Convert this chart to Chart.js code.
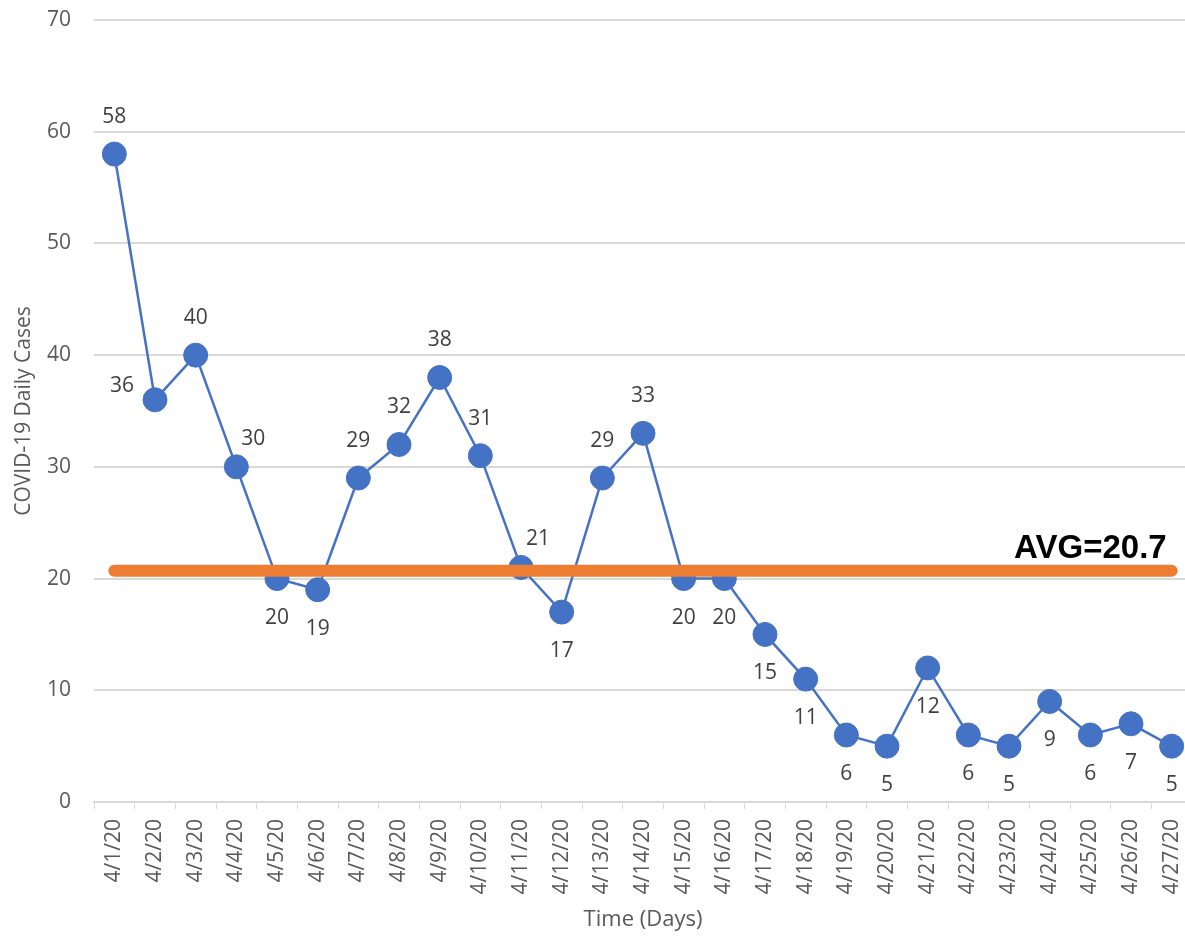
<!DOCTYPE html>
<html>
<head>
<meta charset="utf-8">
<script src="https://cdn.jsdelivr.net/npm/chart.js@4"></script>
<style>
    html, body { margin: 0; padding: 0; background: #fff; overflow: hidden; }
    #wrap { width: 1206px; height: 936px; }
</style>
</head>
<body>
<div id="wrap"><canvas id="casesChart"></canvas></div>
<script>
const days = ['4/1/20', '4/2/20', '4/3/20', '4/4/20', '4/5/20', '4/6/20', '4/7/20', '4/8/20', '4/9/20',
    '4/10/20', '4/11/20', '4/12/20', '4/13/20', '4/14/20', '4/15/20', '4/16/20', '4/17/20', '4/18/20',
    '4/19/20', '4/20/20', '4/21/20', '4/22/20', '4/23/20', '4/24/20', '4/25/20', '4/26/20', '4/27/20'];
const dailyCases = [58, 36, 40, 30, 20, 19, 29, 32, 38, 31, 21, 17, 29, 33, 20, 20, 15, 11, 6, 5, 12, 6, 5, 9, 6, 7, 5];
const avgCases = 20.7;
const yTicks = [0, 10, 20, 30, 40, 50, 60, 70];

// where each value label sits relative to its point
const labelSpots = ['above', 'left', 'above', 'aboveRight', 'below', 'below', 'above', 'above', 'above',
    'above', 'aboveRight', 'below', 'above', 'above', 'below', 'below', 'below', 'below',
    'below', 'below', 'below', 'below', 'below', 'below', 'below', 'below', 'below'];
const spotOffsets = {
    above: [0, -37],
    below: [0, 39],
    left: [-33, -14],
    aboveRight: [17, -28]
};

const gridGrey = '#d9d9d9';
const textGrey = '#595959';

const pointLabels = {
    id: 'pointLabels',
    afterDatasetsDraw(chart) {
        const ctx = chart.ctx;
        const meta = chart.getDatasetMeta(1);
        ctx.save();
        ctx.font = '21px "Open Sans"';
        ctx.fillStyle = '#404040';
        ctx.textAlign = 'center';
        ctx.textBaseline = 'middle';
        meta.data.forEach((pt, i) => {
            const off = spotOffsets[labelSpots[i]];
            ctx.fillText(String(dailyCases[i]), pt.x + off[0], pt.y + off[1]);
        });

        // label for the average line
        const yAvg = chart.scales.y.getPixelForValue(avgCases);
        const xEnd = chart.scales.x.getPixelForValue(days.length - 1);
        ctx.font = 'bold 33px "Liberation Sans"';
        ctx.fillStyle = '#000';
        ctx.textAlign = 'right';
        ctx.textBaseline = 'alphabetic';
        ctx.fillText('AVG=' + avgCases, xEnd - 5, yAvg - 13);
        ctx.restore();
    }
};

new Chart(document.getElementById('casesChart'), {
    type: 'line',
    data: {
        labels: days,
        datasets: [{
            label: 'Average',
            data: [{ x: days[0], y: avgCases }, { x: days[days.length - 1], y: avgCases }],
            borderColor: '#ed7d31',
            borderWidth: 12,
            borderCapStyle: 'round',
            pointRadius: 0,
            fill: false
        }, {
            label: 'Daily Cases',
            data: dailyCases,
            borderColor: '#4472c4',
            borderWidth: 2.5,
            backgroundColor: '#4472c4',
            pointBackgroundColor: '#4472c4',
            pointBorderColor: '#4472c4',
            pointRadius: 12,
            pointBorderWidth: 1,
            tension: 0,
            fill: false
        }]
    },
    options: {
        responsive: true,
        maintainAspectRatio: false,
        animation: false,
        layout: { padding: { top: 20, right: 14, bottom: 0, left: 0 } },
        plugins: {
            legend: { display: false },
            tooltip: { enabled: false }
        },
        scales: {
            x: {
                offset: true,
                afterFit: (s) => {
                    s.height = 134;
                    s.paddingLeft = 0;
                    s.paddingRight = 0;
                },
                grid: {
                    offset: true,
                    drawOnChartArea: false,
                    drawTicks: true,
                    tickLength: 7,
                    color: gridGrey
                },
                border: { color: gridGrey, width: 2 },
                ticks: {
                    minRotation: 90,
                    maxRotation: 90,
                    autoSkip: false,
                    padding: 10,
                    color: textGrey,
                    font: { family: 'Open Sans', size: 21 }
                },
                title: {
                    display: true,
                    text: 'Time (Days)',
                    color: textGrey,
                    font: { family: 'Open Sans', size: 22 },
                    padding: { top: 0, bottom: 3 }
                }
            },
            y: {
                min: 0,
                max: 70,
                afterFit: (s) => {
                    s.width = 94;
                    s.paddingTop = 0;
                    s.paddingBottom = 0;
                },
                afterBuildTicks: (s) => { s.ticks = yTicks.map(v => ({ value: v })); },
                grid: { color: gridGrey, lineWidth: 2, drawTicks: false },
                border: { display: false },
                ticks: {
                    padding: 23,
                    color: textGrey,
                    font: { family: 'Open Sans', size: 21 }
                },
                title: {
                    display: true,
                    text: 'COVID-19 Daily Cases',
                    color: textGrey,
                    font: { family: 'Open Sans', size: 21 },
                    padding: { top: 11, bottom: 0 }
                }
            }
        }
    },
    plugins: [pointLabels]
});
</script>
</body>
</html>
